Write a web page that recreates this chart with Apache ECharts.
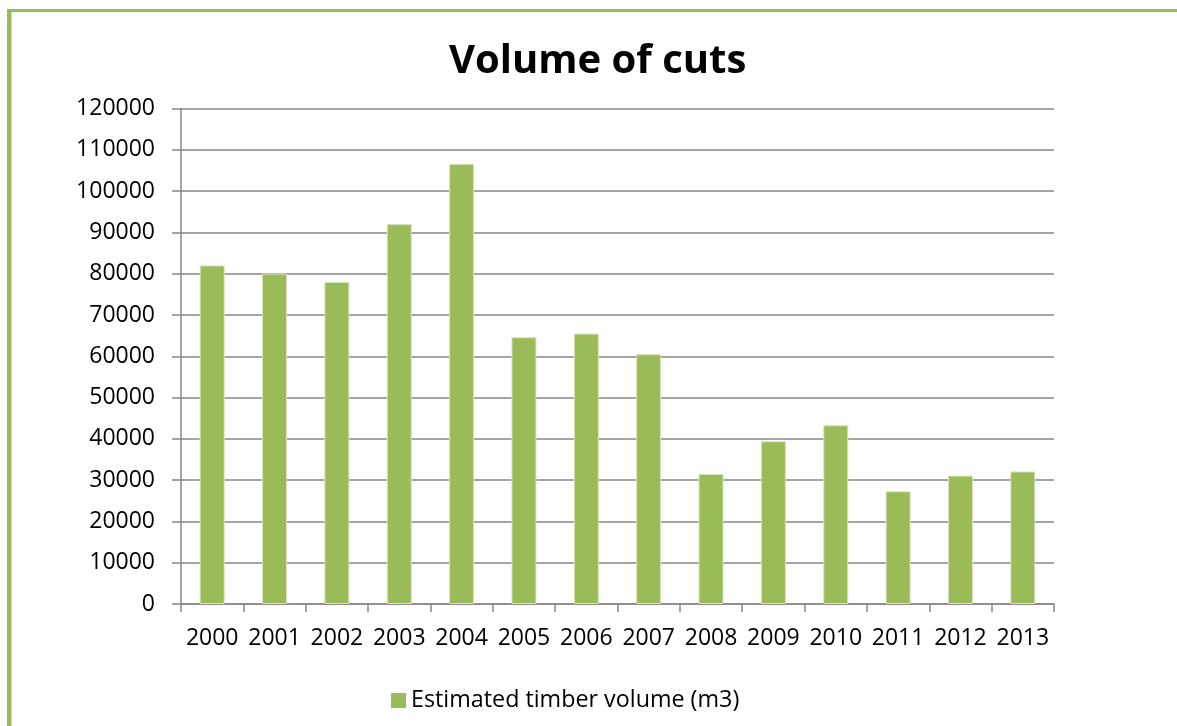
<!DOCTYPE html>
<html>
<head>
<meta charset="utf-8">
<script src="https://cdn.jsdelivr.net/npm/echarts@6/dist/echarts.min.js"></script>
<style>
html,body{margin:0;padding:0;background:#fff;}
#chart{width:1177px;height:726px;}
</style>
</head>
<body>
<div id="chart"></div>
<script>
const titleText = 'Volume of cuts';
const seriesName = 'Estimated timber volume (m3)';
const years = ['2000','2001','2002','2003','2004','2005','2006','2007','2008','2009','2010','2011','2012','2013'];
const volumes = [82000, 80000, 78000, 92000, 106600, 64600, 65500, 60500, 31500, 39400, 43300, 27300, 31100, 32100];

const FONT = '"Open Sans", "Noto Sans", sans-serif';
const GREEN = '#9BBB59';
const GRAY = '#868686';

const chart = echarts.init(document.getElementById('chart'), null, {renderer: 'canvas'});
chart.setOption({
  animation: false,
  backgroundColor: '#ffffff',
  title: {
    text: titleText,
    left: 444,
    top: 37,
    textStyle: {fontFamily: FONT, fontSize: 40, fontWeight: 'bold', color: '#000'}
  },
  legend: {
    bottom: 9,
    left: 386,
    itemWidth: 15,
    itemHeight: 15,
    itemGap: 7,
    icon: 'rect',
    itemStyle: {borderWidth: 0, color: GREEN},
    textStyle: {fontFamily: FONT, fontSize: 23.3, color: '#000'},
    data: [seriesName]
  },
  grid: {left: 181, right: 123, top: 108.5, bottom: 122, containLabel: false},
  xAxis: {
    type: 'category',
    data: years,
    axisLine: {lineStyle: {color: GRAY, width: 1.5}},
    axisTick: {show: true, alignWithLabel: false, length: 8, lineStyle: {color: GRAY, width: 1.5}},
    axisLabel: {fontFamily: FONT, fontSize: 23, color: '#000', margin: 23, interval: 0}
  },
  yAxis: {
    type: 'value',
    min: 0,
    max: 120000,
    interval: 10000,
    axisLine: {show: true, lineStyle: {color: GRAY, width: 1.5}},
    axisTick: {show: true, length: 9, lineStyle: {color: GRAY, width: 1.5}},
    axisLabel: {fontFamily: FONT, fontSize: 23, color: '#000', margin: 26, formatter: function (v) { return String(v); }},
    splitLine: {show: true, lineStyle: {color: GRAY, width: 1.5}}
  },
  graphic: [
    {type: 'rect', left: 7, top: 9, shape: {width: 1170, height: 3}, style: {fill: GREEN}, silent: true},
    {type: 'rect', left: 7, top: 9, shape: {width: 4.5, height: 717}, style: {fill: GREEN}, silent: true}
  ],
  series: [{
    name: seriesName,
    type: 'bar',
    data: volumes,
    barWidth: 25,
    itemStyle: {color: GREEN, borderColor: '#d8e4bc', borderWidth: 1}
  }]
});
</script>
</body>
</html>
